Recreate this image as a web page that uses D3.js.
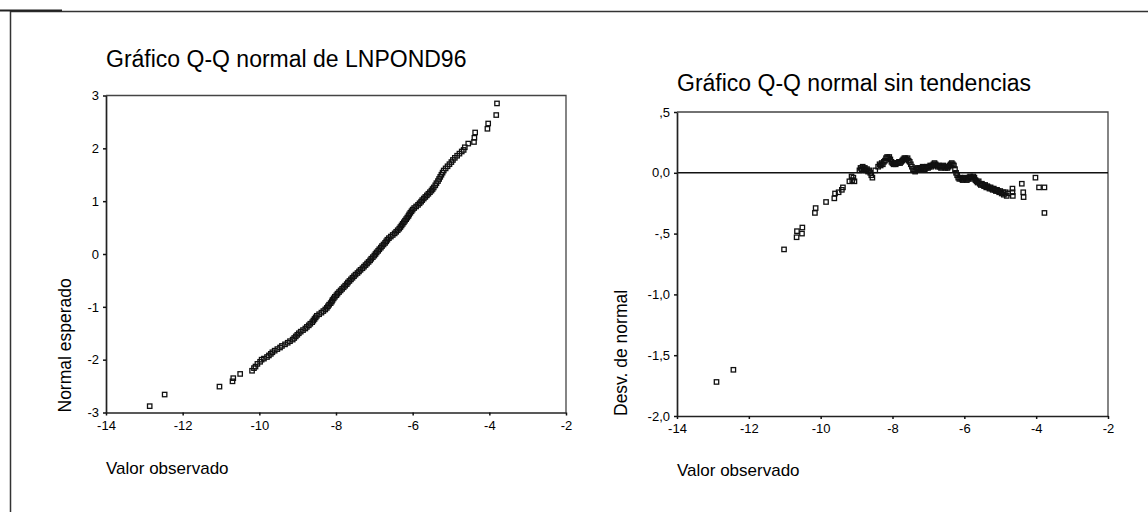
<!DOCTYPE html>
<html><head><meta charset="utf-8">
<script src="https://cdn.jsdelivr.net/npm/d3@7"></script>
<style>
html,body{margin:0;padding:0;background:#fff;}
svg{display:block;font-family:"Liberation Sans",Arial,sans-serif;}
</style></head><body>
<svg id="chart" width="1148" height="523"></svg>
<script>
// ---- texts ----
const titleLeft = "Gráfico Q-Q normal de LNPOND96";
const titleRight = "Gráfico Q-Q normal sin tendencias";
const xAxisTitle = "Valor observado";
const yTitleLeft = "Normal esperado";
const yTitleRight = "Desv. de normal";

// ---- ticks ----
const xTicks = [-14, -12, -10, -8, -6, -4, -2];
const qqYTicks = [-3, -2, -1, 0, 1, 2, 3];
const detYTicks = [0.5, 0, -0.5, -1, -1.5, -2];
const detYTickLabels = [",5", "0,0", "-,5", "-1,0", "-1,5", "-2,0"];

// ---- Q-Q normal plot: observed value vs expected normal ----
const qqObserved = [
  -12.86,-12.47,-11.04,-10.70,-10.68,-10.50,-10.19,-10.14,-10.10,-10.05,
  -9.98,-9.94,-9.88,-9.80,-9.75,-9.70,-9.66,-9.60,-9.53,-9.46,
  -9.41,-9.33,-9.26,-9.20,-9.13,-9.09,-9.05,-9.01,-8.97,-8.92,
  -8.86,-8.80,-8.76,-8.71,-8.67,-8.62,-8.59,-8.56,-8.53,-8.50,
  -8.44,-8.38,-8.33,-8.28,-8.24,-8.21,-8.18,-8.14,-8.11,-8.09,
  -8.06,-8.03,-7.99,-7.96,-7.92,-7.88,-7.84,-7.80,-7.76,-7.72,
  -7.69,-7.65,-7.61,-7.57,-7.53,-7.49,-7.44,-7.40,-7.36,-7.31,
  -7.27,-7.23,-7.19,-7.15,-7.11,-7.08,-7.04,-7.00,-6.97,-6.94,
  -6.90,-6.87,-6.83,-6.80,-6.76,-6.72,-6.69,-6.66,-6.62,-6.57,
  -6.52,-6.47,-6.43,-6.39,-6.35,-6.32,-6.29,-6.26,-6.23,-6.20,
  -6.17,-6.14,-6.11,-6.09,-6.06,-6.03,-6.00,-5.96,-5.91,-5.86,
  -5.82,-5.78,-5.75,-5.71,-5.67,-5.63,-5.59,-5.55,-5.51,-5.48,
  -5.45,-5.41,-5.38,-5.34,-5.31,-5.28,-5.25,-5.22,-5.19,-5.14,
  -5.09,-5.04,-4.99,-4.95,-4.90,-4.84,-4.78,-4.72,-4.67,-4.64,
  -4.55,-4.40,-4.39,-4.37,-4.05,-4.03,-3.82,-3.80
];
const qqExpected = [
  -2.88,-2.66,-2.51,-2.41,-2.35,-2.27,-2.21,-2.16,-2.13,-2.08,
  -2.04,-2.00,-1.98,-1.95,-1.92,-1.89,-1.86,-1.83,-1.80,-1.77,
  -1.74,-1.71,-1.68,-1.65,-1.62,-1.59,-1.56,-1.53,-1.50,-1.47,
  -1.44,-1.41,-1.38,-1.35,-1.32,-1.29,-1.26,-1.23,-1.20,-1.17,
  -1.14,-1.11,-1.08,-1.05,-1.02,-0.99,-0.96,-0.93,-0.90,-0.87,
  -0.84,-0.81,-0.78,-0.75,-0.72,-0.69,-0.66,-0.63,-0.60,-0.57,
  -0.54,-0.51,-0.48,-0.45,-0.42,-0.39,-0.36,-0.33,-0.30,-0.27,
  -0.24,-0.21,-0.18,-0.15,-0.12,-0.09,-0.06,-0.03,0.00,0.03,
  0.06,0.09,0.12,0.15,0.18,0.21,0.24,0.27,0.30,0.33,
  0.36,0.39,0.42,0.45,0.48,0.51,0.54,0.57,0.60,0.63,
  0.66,0.69,0.72,0.75,0.78,0.81,0.84,0.87,0.90,0.93,
  0.96,0.99,1.02,1.05,1.08,1.11,1.14,1.17,1.20,1.23,
  1.26,1.30,1.34,1.38,1.42,1.46,1.50,1.54,1.58,1.62,
  1.66,1.70,1.74,1.78,1.82,1.86,1.90,1.94,1.97,2.02,
  2.09,2.12,2.20,2.30,2.37,2.47,2.63,2.85
];

// ---- Detrended Q-Q plot: observed value vs deviation from normal ----
const detObserved = [
  -12.90,-12.43,-11.02,-10.67,-10.66,-10.52,-10.51,-10.16,-10.14,-9.85,
  -9.62,-9.60,-9.50,-9.41,-9.38,-9.20,-9.14,-9.12,-9.09,-9.06,
  -8.92,-8.89,-8.86,-8.83,-8.80,-8.77,-8.74,-8.71,-8.68,-8.65,
  -8.62,-8.59,-8.56,-8.48,-8.40,-8.36,-8.33,-8.30,-8.27,-8.24,
  -8.21,-8.18,-8.15,-8.12,-8.09,-8.06,-8.03,-8.00,-7.97,-7.94,
  -7.91,-7.88,-7.85,-7.82,-7.79,-7.76,-7.73,-7.70,-7.67,-7.64,
  -7.61,-7.58,-7.55,-7.52,-7.49,-7.46,-7.43,-7.40,-7.37,-7.34,
  -7.31,-7.28,-7.25,-7.22,-7.19,-7.16,-7.13,-7.10,-7.07,-7.04,
  -7.01,-6.98,-6.95,-6.92,-6.89,-6.86,-6.83,-6.80,-6.77,-6.74,
  -6.71,-6.68,-6.65,-6.62,-6.59,-6.56,-6.53,-6.50,-6.47,-6.44,
  -6.41,-6.38,-6.35,-6.32,-6.29,-6.26,-6.23,-6.20,-6.17,-6.14,
  -6.11,-6.08,-6.05,-6.02,-5.99,-5.96,-5.93,-5.90,-5.87,-5.84,
  -5.81,-5.78,-5.75,-5.72,-5.69,-5.66,-5.63,-5.60,-5.57,-5.54,
  -5.51,-5.48,-5.45,-5.42,-5.39,-5.36,-5.33,-5.30,-5.27,-5.24,
  -5.21,-5.18,-5.15,-5.12,-5.09,-5.06,-5.03,-5.00,-4.96,-4.92,
  -4.90,-4.85,-4.82,-4.78,-4.66,-4.66,-4.65,-4.40,-4.36,-4.35,
  -4.02,-3.92,-3.77,-3.77
];
const detDeviation = [
  -1.72,-1.62,-0.63,-0.53,-0.48,-0.50,-0.45,-0.33,-0.29,-0.24,
  -0.21,-0.17,-0.16,-0.14,-0.12,-0.07,-0.03,-0.06,-0.04,-0.07,
  0.02,0.04,0.03,0.05,0.03,0.04,0.02,0.03,0.01,0.02,
  0.00,-0.02,-0.04,0.02,0.05,0.07,0.06,0.08,0.07,0.09,
  0.10,0.12,0.13,0.12,0.13,0.11,0.09,0.08,0.07,0.08,
  0.07,0.08,0.08,0.09,0.08,0.09,0.10,0.11,0.12,0.12,
  0.11,0.12,0.10,0.09,0.07,0.05,0.03,0.02,0.01,0.03,
  0.04,0.03,0.04,0.03,0.04,0.05,0.04,0.03,0.04,0.05,
  0.04,0.05,0.06,0.05,0.06,0.07,0.08,0.07,0.06,0.05,
  0.06,0.05,0.04,0.05,0.06,0.05,0.04,0.05,0.04,0.05,
  0.06,0.07,0.08,0.07,0.06,0.03,0.00,-0.02,-0.04,-0.05,
  -0.04,-0.05,-0.06,-0.05,-0.04,-0.05,-0.06,-0.05,-0.04,-0.03,
  -0.04,-0.05,-0.03,-0.04,-0.06,-0.07,-0.08,-0.07,-0.09,-0.10,
  -0.09,-0.10,-0.11,-0.10,-0.12,-0.11,-0.12,-0.13,-0.12,-0.13,
  -0.14,-0.13,-0.14,-0.15,-0.14,-0.15,-0.16,-0.15,-0.17,-0.16,
  -0.18,-0.16,-0.19,-0.17,-0.13,-0.16,-0.19,-0.09,-0.16,-0.20,
  -0.04,-0.12,-0.12,-0.33
];

// ---- drawing ----
const svg = d3.select("#chart");
svg.append("rect").attr("width", 1148).attr("height", 523).attr("fill", "#fff");

// outer page frame (top and left edges)
svg.append("path").attr("d", "M10.5,512 V11.5 H1148")
  .attr("fill", "none").attr("stroke", "#333").attr("stroke-width", 1.5);
svg.append("line").attr("x1", 0).attr("x2", 62).attr("y1", 10.5).attr("y2", 10.5)
  .attr("stroke", "#222").attr("stroke-width", 2.2);

const INK = "#000";

function styleAxis(g, size) {
  g.attr("font-family", "'Liberation Sans', Arial, sans-serif").attr("font-size", size);
  g.selectAll("text").attr("fill", INK);
  g.selectAll(".tick line").attr("stroke", "#111").attr("stroke-width", 1.5);
  g.select(".domain").attr("stroke", "#222").attr("stroke-width", 1.7);
}

function drawPanel(o) {
  const { x, y, yTicks, yFmt, xs, ys, zeroLine } = o;
  const [x0, x1] = x.range();
  const [yb, yt] = y.range();
  // plot frame (top and right)
  svg.append("path")
    .attr("d", `M${x0},${yt} H${x1} V${yb}`)
    .attr("fill", "none").attr("stroke", "#444").attr("stroke-width", 1.3);
  if (zeroLine) {
    svg.append("line").attr("x1", x0).attr("x2", x1)
      .attr("y1", y(0)).attr("y2", y(0))
      .attr("stroke", "#111").attr("stroke-width", 1.4);
  }
  // axes
  const gx = svg.append("g").attr("transform", `translate(0,${yb})`)
    .call(d3.axisBottom(x).tickValues(xTicks).tickSize(3).tickSizeOuter(0)
      .tickPadding(5).tickFormat(d => String(d)));
  styleAxis(gx, 13);
  const gy = svg.append("g").attr("transform", `translate(${x0},0)`)
    .call(d3.axisLeft(y).tickValues(yTicks).tickSize(3).tickSizeOuter(0)
      .tickPadding(4).tickFormat(yFmt));
  styleAxis(gy, 13);
  // points: small open squares
  const n = Math.min(xs.length, ys.length);
  svg.append("g").selectAll("rect").data(d3.range(n)).join("rect")
    .attr("x", i => x(xs[i]) - 2.2).attr("y", i => y(ys[i]) - 2.2)
    .attr("width", 4.4).attr("height", 4.4)
    .attr("fill", "none").attr("stroke", "#111").attr("stroke-width", 1.3);
}

const xL = d3.scaleLinear().domain([-14, -2]).range([106, 566]);
const yL = d3.scaleLinear().domain([-3, 3]).range([412.5, 95.5]);
const xR = d3.scaleLinear().domain([-14, -2]).range([677, 1108]);
const yR = d3.scaleLinear().domain([-2, 0.5]).range([416, 112]);

drawPanel({ x: xL, y: yL, yTicks: qqYTicks, yFmt: d => String(d),
  xs: qqObserved, ys: qqExpected, zeroLine: false });
drawPanel({ x: xR, y: yR, yTicks: detYTicks, yFmt: (d, i) => detYTickLabels[i],
  xs: detObserved, ys: detDeviation, zeroLine: true });

// titles
function addText(t, x, y, size, rot) {
  const el = svg.append("text").text(t).attr("fill", INK).attr("font-size", size);
  if (rot) el.attr("transform", `translate(${x},${y}) rotate(-90)`);
  else el.attr("x", x).attr("y", y);
  return el;
}
addText(titleLeft, 106, 67, 23);
addText(titleRight, 677, 91, 23);
addText(xAxisTitle, 106, 474, 17);
addText(xAxisTitle, 677, 476, 17);
addText(yTitleLeft, 71, 412.5, 17.5, true);
addText(yTitleRight, 627, 416, 17.5, true);
</script>
</body></html>
